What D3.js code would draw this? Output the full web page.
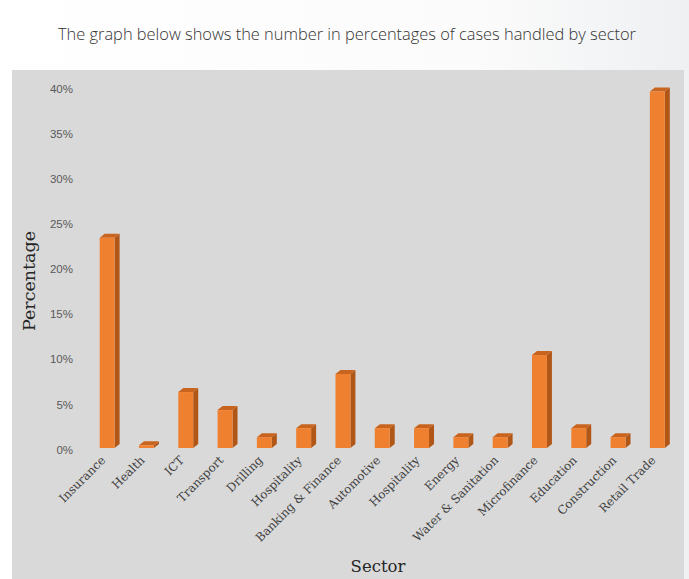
<!DOCTYPE html>
<html><head><meta charset="utf-8">
<script src="https://cdn.jsdelivr.net/npm/d3@7"></script>
<style>html,body{margin:0;padding:0;background:#fff;}svg{display:block;}</style>
</head><body>
<script>
const categories = ["Insurance","Health","ICT","Transport","Drilling","Hospitality","Banking & Finance","Automotive","Hospitality ","Energy","Water & Sanitation","Microfinance","Education","Construction","Retail Trade"];
const values = [23.3,0.3,6.2,4.2,1.2,2.2,8.2,2.2,2.2,1.2,1.2,10.3,2.2,1.2,39.5];
const yTicks = [0,5,10,15,20,25,30,35,40];
const title = "The graph below shows the number in percentages of cases handled by sector";

const W = 689, H = 579;
const svg = d3.select("body").append("svg").attr("width", W).attr("height", H);

const defs = svg.append("defs");
const g = defs.append("linearGradient").attr("id","bg").attr("x1","0").attr("x2","1").attr("y1","0").attr("y2","0");
g.append("stop").attr("offset","0").attr("stop-color","#ffffff");
g.append("stop").attr("offset","0.7").attr("stop-color","#fbfbfb");
g.append("stop").attr("offset","1").attr("stop-color","#eef0f2");
svg.append("rect").attr("width",W).attr("height",H).attr("fill","url(#bg)");

svg.append("text").attr("x", 347).attr("y", 40).attr("text-anchor","middle")
  .attr("font-family","Open Sans, sans-serif").attr("font-size",17).attr("font-weight",300).attr("fill","#333")
  .attr("textLength", 578).attr("lengthAdjust","spacingAndGlyphs").text(title);

svg.append("rect").attr("x",12).attr("y",70).attr("width",672).attr("height",H-70).attr("fill","#d9d9d9");

const x = d3.scaleBand().domain(d3.range(categories.length)).range([87.5, 677]).paddingInner(0.62).paddingOuter(0.31);
const y = d3.scaleLinear().domain([0,40]).range([448, 87]);

const yAxis = svg.append("g").attr("transform","translate(80,0)")
  .call(d3.axisLeft(y).tickValues(yTicks).tickFormat(d => d + "%").tickSize(0).tickPadding(7));
yAxis.select(".domain").remove();
yAxis.selectAll("text").attr("font-family","Liberation Sans, Arial, sans-serif").attr("font-size",11.5).attr("fill","#595959").attr("dy","0.45em");

const dx = 5, dy = -4;
const bars = svg.append("g");
values.forEach((v,i) => {
  const x0 = x(i), x1 = x(i) + x.bandwidth();
  const yt = y(v), yb = y(0);
  bars.append("polygon").attr("points", [[x1,yt],[x1+dx,yt+dy],[x1+dx,yb+dy],[x1,yb]].join(" ")).attr("fill","#b05718");
  bars.append("polygon").attr("points", [[x0,yt],[x0+dx,yt+dy],[x1+dx,yt+dy],[x1,yt]].join(" ")).attr("fill","#c9641f");
  bars.append("rect").attr("x",x0).attr("y",yt).attr("width",x.bandwidth()).attr("height",yb-yt).attr("fill","#ee8030");
});

const xl = svg.append("g");
categories.forEach((c,i) => {
  const cx = x(i) + x.bandwidth()/2;
  xl.append("text").attr("transform", `translate(${cx-1},${461}) rotate(-45)`)
    .attr("text-anchor","end").attr("font-family","DejaVu Serif, serif")
    .attr("font-size",11.8).attr("fill","#404040").text(c.trim());
});

svg.append("text").attr("transform","translate(35,281) rotate(-90)").attr("text-anchor","middle")
  .attr("font-family","DejaVu Serif, serif").attr("font-size",17.5).attr("fill","#262626").text("Percentage");
svg.append("text").attr("x",378).attr("y",572).attr("text-anchor","middle")
  .attr("font-family","DejaVu Serif, serif").attr("font-size",16.5).attr("fill","#262626").text("Sector");
</script>
</body></html>
